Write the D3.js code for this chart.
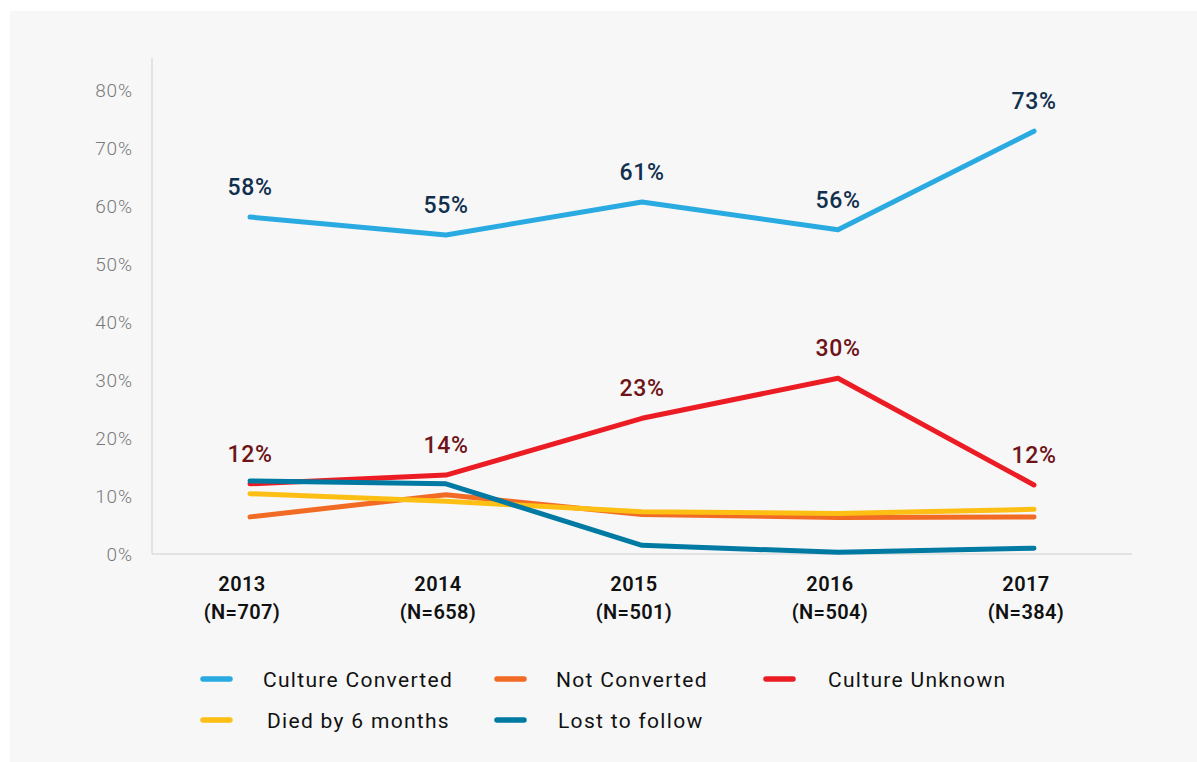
<!DOCTYPE html>
<html>
<head>
<meta charset="utf-8">
<script src="https://cdn.jsdelivr.net/npm/d3@7"></script>
<style>
  html, body { margin: 0; padding: 0; background: #ffffff; }
  svg { display: block; font-family: Roboto, "DejaVu Sans", sans-serif; }
</style>
</head>
<body>
<svg id="chart" width="1197" height="762"></svg>
<script>
// Outcome shares by cohort year
const years = ["2013", "2014", "2015", "2016", "2017"];
const cohortN = ["(N=707)", "(N=658)", "(N=501)", "(N=504)", "(N=384)"];
const yTicks = [0, 10, 20, 30, 40, 50, 60, 70, 80];

const cultureConverted = [58.1, 55.0, 60.7, 55.9, 72.9];
const notConverted = [6.4, 10.2, 6.8, 6.3, 6.4];
const cultureUnknown = [12.1, 13.6, 23.4, 30.3, 11.9];
const diedBy6Months = [10.4, 9.1, 7.3, 7.0, 7.7];
const lostToFollow = [12.6, 12.1, 1.5, 0.3, 1.0];

const ccLabels = ["58%", "55%", "61%", "56%", "73%"];
const cuLabels = ["12%", "14%", "23%", "30%", "12%"];

const series = [
  { name: "Culture Converted", values: cultureConverted, color: "#29abe2" },
  { name: "Not Converted", values: notConverted, color: "#f26b24" },
  { name: "Culture Unknown", values: cultureUnknown, color: "#ec1c24" },
  { name: "Died by 6 months", values: diedBy6Months, color: "#fdbf14" },
  { name: "Lost to follow", values: lostToFollow, color: "#007aa2" }
];
// drawing order: later entries sit on top
const drawOrder = [2, 1, 3, 4, 0];

const svg = d3.select("#chart");

// panel background
svg.append("rect").attr("x", 10).attr("y", 11).attr("width", 1187).attr("height", 751)
  .attr("fill", "#f7f7f7");

const plotLeft = 152, plotRight = 1132, plotTop = 58, plotBottom = 554;

const x = d3.scalePoint().domain(years).range([plotLeft, plotRight]).padding(0.5);
const y = d3.scaleLinear().domain([0, 80]).range([plotBottom, 90]);

// axes lines
svg.append("line").attr("x1", plotLeft).attr("x2", plotLeft).attr("y1", plotTop).attr("y2", plotBottom)
  .attr("stroke", "#dcdcdc").attr("stroke-width", 1.5);
svg.append("line").attr("x1", plotLeft).attr("x2", plotRight).attr("y1", plotBottom).attr("y2", plotBottom)
  .attr("stroke", "#dcdcdc").attr("stroke-width", 1.5);

// y tick labels
const yAxis = d3.axisLeft(y).tickValues(yTicks).tickFormat(d => d + "%").tickSize(0).tickPadding(0);
const yg = svg.append("g").attr("transform", `translate(${plotLeft - 19},0)`).call(yAxis);
yg.select(".domain").remove();
yg.selectAll("text").attr("font-size", 19).attr("fill", "#7a7a7a")
  .attr("font-family", "Roboto, sans-serif").attr("font-weight", 300)
  .attr("letter-spacing", 0.9);

// x tick labels (two lines), set slightly left of each point
const xg = svg.append("g");
years.forEach((yr, i) => {
  const cx = x(yr) - 8;
  const t = xg.append("text").attr("x", cx).attr("text-anchor", "middle")
    .attr("font-size", 20).attr("font-weight", 600).attr("fill", "#111")
    .attr("letter-spacing", 0.4);
  t.append("tspan").attr("x", cx).attr("y", 591).text(yr);
  t.append("tspan").attr("x", cx).attr("y", 619).text(cohortN[i]);
});

// lines
const line = d3.line().x((d, i) => x(years[i])).y(d => y(d));
drawOrder.forEach(k => {
  const s = series[k];
  svg.append("path").datum(s.values).attr("d", line)
    .attr("fill", "none").attr("stroke", s.color).attr("stroke-width", 5)
    .attr("stroke-linejoin", "round").attr("stroke-linecap", "round");
});

// value labels
function addLabels(values, labels, color) {
  svg.append("g").selectAll("text").data(values).join("text")
    .attr("x", (d, i) => x(years[i]))
    .attr("y", d => y(d) - 22)
    .attr("text-anchor", "middle")
    .attr("font-size", 23).attr("font-weight", 500).attr("letter-spacing", 0.6)
    .attr("fill", color)
    .text((d, i) => labels[i]);
}
addLabels(cultureConverted, ccLabels, "#12304d");
addLabels(cultureUnknown, cuLabels, "#6e1317");

// legend
const legendItems = [
  { s: series[0], x: 200, y: 679, tx: 263 },
  { s: series[1], x: 494, y: 679, tx: 556 },
  { s: series[2], x: 763, y: 679, tx: 828 },
  { s: series[3], x: 200, y: 720, tx: 267 },
  { s: series[4], x: 494, y: 720, tx: 558 }
];
const lg = svg.append("g");
legendItems.forEach(it => {
  lg.append("line").attr("x1", it.x + 3).attr("x2", it.x + 30).attr("y1", it.y).attr("y2", it.y)
    .attr("stroke", it.s.color).attr("stroke-width", 5.5).attr("stroke-linecap", "round");
  lg.append("text").attr("x", it.tx).attr("y", it.y + 7.5)
    .attr("font-size", 21).attr("fill", "#111").attr("letter-spacing", 1.3)
    .text(it.s.name);
});
</script>
</body>
</html>
